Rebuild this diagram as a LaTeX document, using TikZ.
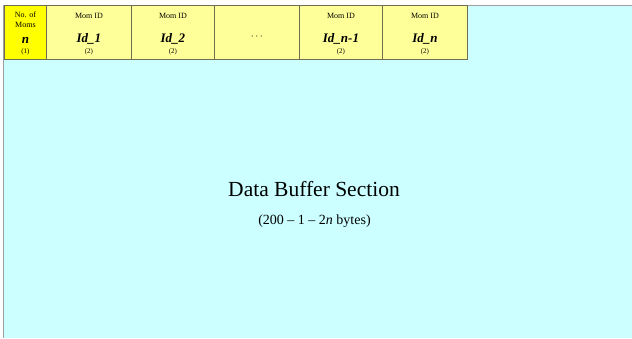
\documentclass[tikz,border=0pt]{standalone}
\usepackage{fontspec}
\setmainfont{Liberation Serif}
\definecolor{cyanbg}{HTML}{CCFFFF}
\definecolor{lightyel}{HTML}{FFFF99}
\definecolor{brightyel}{HTML}{FFFF00}
\definecolor{cellline}{HTML}{6E6E50}
\definecolor{frameline}{HTML}{A0A0A0}
\tikzset{
  cell/.style={draw=cellline, line width=0.9pt, fill=lightyel, minimum height=54pt, inner sep=0pt, anchor=north west},
  hdr/.style={font=\fontsize{8}{10}\selectfont, inner sep=0pt, align=center},
  idtxt/.style={font=\fontsize{13}{14}\selectfont\bfseries\itshape, inner sep=0pt},
  sz/.style={font=\fontsize{7}{8}\selectfont, inner sep=0pt},
}
\begin{document}
\begin{tikzpicture}[x=1pt,y=-1pt]
\useasboundingbox (0,0) rectangle (632,338);
\fill[white] (0,0) rectangle (632,338);
\fill[cyanbg] (3.5,5.5) rectangle (632,338);
\draw[frameline, line width=1.2pt] (3.5,338) -- (3.5,5.5) -- (632,5.5);
% cells
\node[cell, fill=brightyel, minimum width=42pt] (c1) at (4,5) {};
\node[cell, minimum width=85pt] (c2) at (46,5) {};
\node[cell, minimum width=83pt] (c3) at (131,5) {};
\node[cell, minimum width=85pt] (c4) at (214,5) {};
\node[cell, minimum width=83pt] (c5) at (299,5) {};
\node[cell, minimum width=85pt] (c6) at (382,5) {};
% cell 1
\node[hdr] (h1) at ([yshift=-15pt]c1.north) {No. of\\Moms};
\node[font=\fontsize{13}{14}\selectfont\bfseries\itshape, inner sep=0pt] (n1) at ([yshift=-35pt]c1.north) {n};
\node[sz] (s1) at ([yshift=-47pt]c1.north) {(1)};
% cells 2,3,5,6
\node[hdr] (h2) at ([yshift=-11pt]c2.north) {Mom ID};
\node[idtxt] (i2) at ([yshift=-34pt]c2.north) {Id\_1};
\node[sz] (s2) at ([yshift=-47pt]c2.north) {(2)};
\node[hdr] (h3) at ([yshift=-11pt]c3.north) {Mom ID};
\node[idtxt] (i3) at ([yshift=-34pt]c3.north) {Id\_2};
\node[sz] (s3) at ([yshift=-47pt]c3.north) {(2)};
\node[font=\fontsize{9}{10}\selectfont, inner sep=0pt] (d4) at ([yshift=-33pt]c4.north) {\textperiodcentered\,\textperiodcentered\,\textperiodcentered};
\node[hdr] (h5) at ([yshift=-11pt]c5.north) {Mom ID};
\node[idtxt] (i5) at ([yshift=-34pt]c5.north) {Id\_n-1};
\node[sz] (s5) at ([yshift=-47pt]c5.north) {(2)};
\node[hdr] (h6) at ([yshift=-11pt]c6.north) {Mom ID};
\node[idtxt] (i6) at ([yshift=-34pt]c6.north) {Id\_n};
\node[sz] (s6) at ([yshift=-47pt]c6.north) {(2)};
% main text
\node[font=\fontsize{21.5}{24}\selectfont, inner sep=0pt] (title) at (314,189) {Data Buffer Section};
\node[font=\fontsize{14}{16}\selectfont, inner sep=0pt] (sub) at (314.5,221) {(200 -- 1 -- 2\textit{n} bytes)};
\end{tikzpicture}
\end{document}
